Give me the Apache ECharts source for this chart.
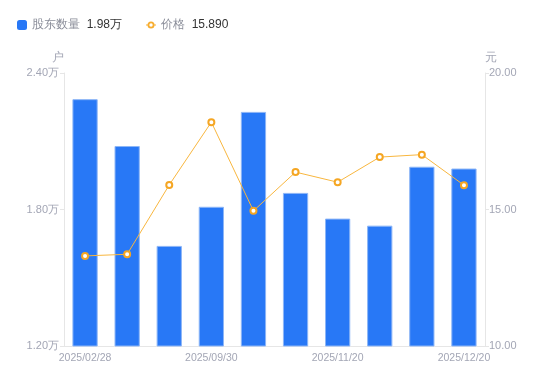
<!DOCTYPE html>
<html>
<head>
<meta charset="utf-8">
<script src="https://cdn.jsdelivr.net/npm/echarts@6/dist/echarts.min.js"></script>
<style>html,body{margin:0;padding:0;background:#fff}#c{width:550px;height:381px}</style>
</head>
<body>
<div id="c"></div>
<script>
var categories = ['2025/02/28','2025/03/31','2025/06/30','2025/09/30','2025/10/20','2025/10/31','2025/11/20','2025/11/30','2025/12/10','2025/12/20'];
var holders = [2.285, 2.079, 1.640, 1.812, 2.229, 1.873, 1.760, 1.729, 1.988, 1.980];
var prices = [13.30, 13.36, 15.90, 18.20, 14.95, 16.37, 16.00, 16.92, 17.01, 15.89];
var leftTicks = ['1.20万','1.80万','2.40万'];
var rightTicks = ['10.00','15.00','20.00'];

var chart = echarts.init(document.getElementById('c'));
var labelColor = '#a3a6b5';
var ff = 'sans-serif';
var lineIcon = 'path://M0,4.4h2v1.2h-2z M8,4.4h2v1.2h-2z M5,1.5A3.5,3.5 0 1 1 5,8.5A3.5,3.5 0 1 1 5,1.5z M5,3.3A1.7,1.7 0 1 0 5,6.7A1.7,1.7 0 1 0 5,3.3z M0,0h0.01v0.01h-0.01z M9.99,9.99h0.01v0.01h-0.01z';
chart.setOption({
  animation: false,
  textStyle: {fontFamily: ff},
  legend: {
    left: 12, top: 14,
    itemWidth: 10, itemHeight: 10, itemGap: 24,
    data: [
      {name: '股东数量', icon: 'roundRect', itemStyle: {color: '#2878f6', borderWidth: 0}},
      {name: '价格', icon: lineIcon, itemStyle: {color: '#f7ad2f', borderWidth: 0}}
    ],
    formatter: function (name) {
      if (name === '股东数量') return '{n|' + name + '}  {v|' + holders[holders.length - 1].toFixed(2) + '万}';
      return '{n|' + name + '}  {v|' + prices[prices.length - 1].toFixed(3) + '}';
    },
    textStyle: {
      fontFamily: ff,
      rich: {
        n: {color: '#8a8d99', fontSize: 12, fontFamily: ff},
        v: {color: '#333', fontSize: 12, fontFamily: ff}
      }
    }
  },
  grid: {left: 64, right: 65, top: 73, bottom: 35, containLabel: false},
  xAxis: {
    type: 'category',
    data: categories,
    axisLine: {lineStyle: {color: '#e6e6e6'}},
    axisTick: {show: false},
    axisLabel: {interval: 2, color: labelColor, fontSize: 10.5, margin: 7, fontFamily: ff}
  },
  yAxis: [{
    type: 'value', min: 1.2, max: 2.4, interval: 0.6,
    name: '户', nameGap: 9,
    nameTextStyle: {color: labelColor, fontSize: 12, align: 'right'},
    axisLine: {show: true, lineStyle: {color: '#e6e6e6'}},
    axisTick: {show: true, length: 4, lineStyle: {color: '#e6e6e6'}},
    splitLine: {show: false},
    axisLabel: {color: labelColor, fontSize: 11, margin: 5, fontFamily: ff,
      formatter: function (v) { var i = Math.round((v - 1.2) / 0.6); return leftTicks[i]; }}
  }, {
    type: 'value', min: 10, max: 20, interval: 5,
    name: '元', nameGap: 9,
    nameTextStyle: {color: labelColor, fontSize: 12, align: 'left'},
    axisLine: {show: true, lineStyle: {color: '#e6e6e6'}},
    axisTick: {show: true, length: 4, lineStyle: {color: '#e6e6e6'}},
    splitLine: {show: false},
    axisLabel: {color: labelColor, fontSize: 11, margin: 4, fontFamily: ff,
      formatter: function (v) { var i = Math.round((v - 10) / 5); return rightTicks[i]; }}
  }],
  series: [{
    name: '股东数量', type: 'bar', yAxisIndex: 0,
    data: holders, barWidth: '60%',
    itemStyle: {color: '#2878f6', borderColor: '#8db6f7', borderWidth: 1}
  }, {
    name: '价格', type: 'line', yAxisIndex: 1,
    data: prices,
    symbol: 'circle', symbolSize: 6, showAllSymbol: true, symbolKeepAspect: true,
    lineStyle: {color: '#f8b63e', width: 1},
    itemStyle: {color: '#fff', borderColor: '#f5a623', borderWidth: 2}
  }]
});
</script>
</body>
</html>
